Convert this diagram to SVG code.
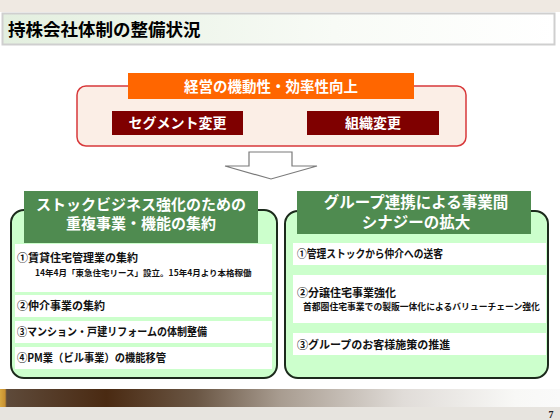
<svg xmlns="http://www.w3.org/2000/svg" width="560" height="420" viewBox="0 0 560 420">
<defs>
<linearGradient id="tg" x1="0" y1="0" x2="1" y2="0">
<stop offset="0" stop-color="#e3efdf"/><stop offset="0.6" stop-color="#f8fbf6"/><stop offset="1" stop-color="#ffffff"/>
</linearGradient>
<linearGradient id="bg" x1="0" y1="0" x2="1" y2="0">
<stop offset="0" stop-color="#d8a840"/><stop offset="0.009" stop-color="#c89030"/><stop offset="0.012" stop-color="#5e4a3a"/>
<stop offset="0.19" stop-color="#4a2a12"/><stop offset="0.35" stop-color="#6a5644"/><stop offset="0.5" stop-color="#a89c90"/>
<stop offset="0.72" stop-color="#e0dcd8"/><stop offset="0.92" stop-color="#f8f8f6"/><stop offset="1" stop-color="#fafafa"/>
</linearGradient>
</defs>
<style>
text{font-family:"Noto Sans CJK JP","Noto Sans",sans-serif;font-weight:bold}
.w{fill:#fff}
.hd{fill:#ff6600}
.dr{fill:#7f0000}
.gh{fill:#4f8b50}
.gb{fill:#ccffcc;stroke:#1c2a1c;stroke-width:2}
.wb{fill:#fff}
.it{font-size:11px;fill:#111}
.sb{font-size:8.5px;fill:#111}
</style>
<rect x="0" y="0" width="560" height="420" fill="#fff"/>
<rect x="0" y="0" width="560" height="12" fill="#efe9e2"/>
<rect x="2.5" y="13.5" width="552" height="31" fill="url(#tg)" stroke="#cfcfcf" stroke-width="2"/>
<text x="8" y="36" font-size="17.5" fill="#000">持株会社体制の整備状況</text>

<g id="top">
<rect x="77" y="86" width="389" height="60" rx="9" fill="#fbeee6" stroke="#d8393b" stroke-width="1.5"/>
<rect x="128" y="73" width="286" height="26" class="hd"/>
<text x="271" y="91.5" font-size="14.5" class="w" text-anchor="middle">経営の機動性・効率性向上</text>
</g>
<g id="segment">
<rect x="112" y="111" width="131" height="24" class="dr"/>
<text x="177.5" y="128" font-size="14" class="w" text-anchor="middle">セグメント変更</text>
</g>
<g id="org">
<rect x="307" y="111" width="132" height="24" class="dr"/>
<text x="373" y="128" font-size="14" class="w" text-anchor="middle">組織変更</text>
</g>

<g id="connectors">
<path d="M249,152 H292 V166 H317 L271,179 L225,166 H249 Z" fill="#fff" stroke="#7a7a7a" stroke-width="1.2"/>
</g>

<g id="left">
<rect x="11" y="210" width="266" height="168" rx="13" class="gb"/>
<rect x="24" y="191" width="234" height="52" class="gh"/>
<text x="141" y="210" font-size="15" class="w" text-anchor="middle">ストックビジネス強化のための</text>
<text x="141" y="229" font-size="15" class="w" text-anchor="middle">重複事業・機能の集約</text>
<rect x="15" y="244" width="257" height="48" class="wb"/>
<text x="17" y="262" class="it">①賃貸住宅管理業の集約</text>
<text x="35" y="276" class="sb">14年4月「東急住宅リース」設立。15年4月より本格稼働</text>
<rect x="15" y="295" width="257" height="22" class="wb"/>
<text x="17" y="310" class="it">②仲介事業の集約</text>
<rect x="15" y="321" width="257" height="22" class="wb"/>
<text x="17" y="336" class="it" textLength="190" lengthAdjust="spacingAndGlyphs">③マンション・戸建リフォームの体制整備</text>
<rect x="15" y="347" width="257" height="22" class="wb"/>
<text x="17" y="362" class="it" textLength="149" lengthAdjust="spacingAndGlyphs">④PM業（ビル事業）の機能移管</text>
</g>

<g id="right">
<rect x="285" y="211" width="263" height="167" rx="13" class="gb"/>
<rect x="297" y="191" width="234" height="43" class="gh"/>
<text x="416" y="208" font-size="15.5" class="w" text-anchor="middle">グループ連携による事業間</text>
<text x="416" y="228" font-size="15.5" class="w" text-anchor="middle">シナジーの拡大</text>
<rect x="293" y="243" width="253" height="22" class="wb"/>
<text x="297" y="258" class="it" textLength="146" lengthAdjust="spacingAndGlyphs">①管理ストックから仲介への送客</text>
<rect x="293" y="275" width="253" height="48" class="wb"/>
<text x="297" y="297" class="it">②分譲住宅事業強化</text>
<text x="303" y="310" font-size="8.8" fill="#111">首都圏住宅事業での製販一体化によるバリューチェーン強化</text>
<rect x="293" y="333" width="253" height="22" class="wb"/>
<text x="297" y="349" class="it">③グループのお客様施策の推進</text>
</g>

<rect x="0" y="389" width="560" height="18" fill="url(#bg)"/>
<rect x="0" y="407" width="560" height="13" fill="#e7e4df"/>
<text x="551" y="418" font-size="10" fill="#222" text-anchor="middle" style="font-family:'Liberation Serif',serif">7</text>
</svg>
